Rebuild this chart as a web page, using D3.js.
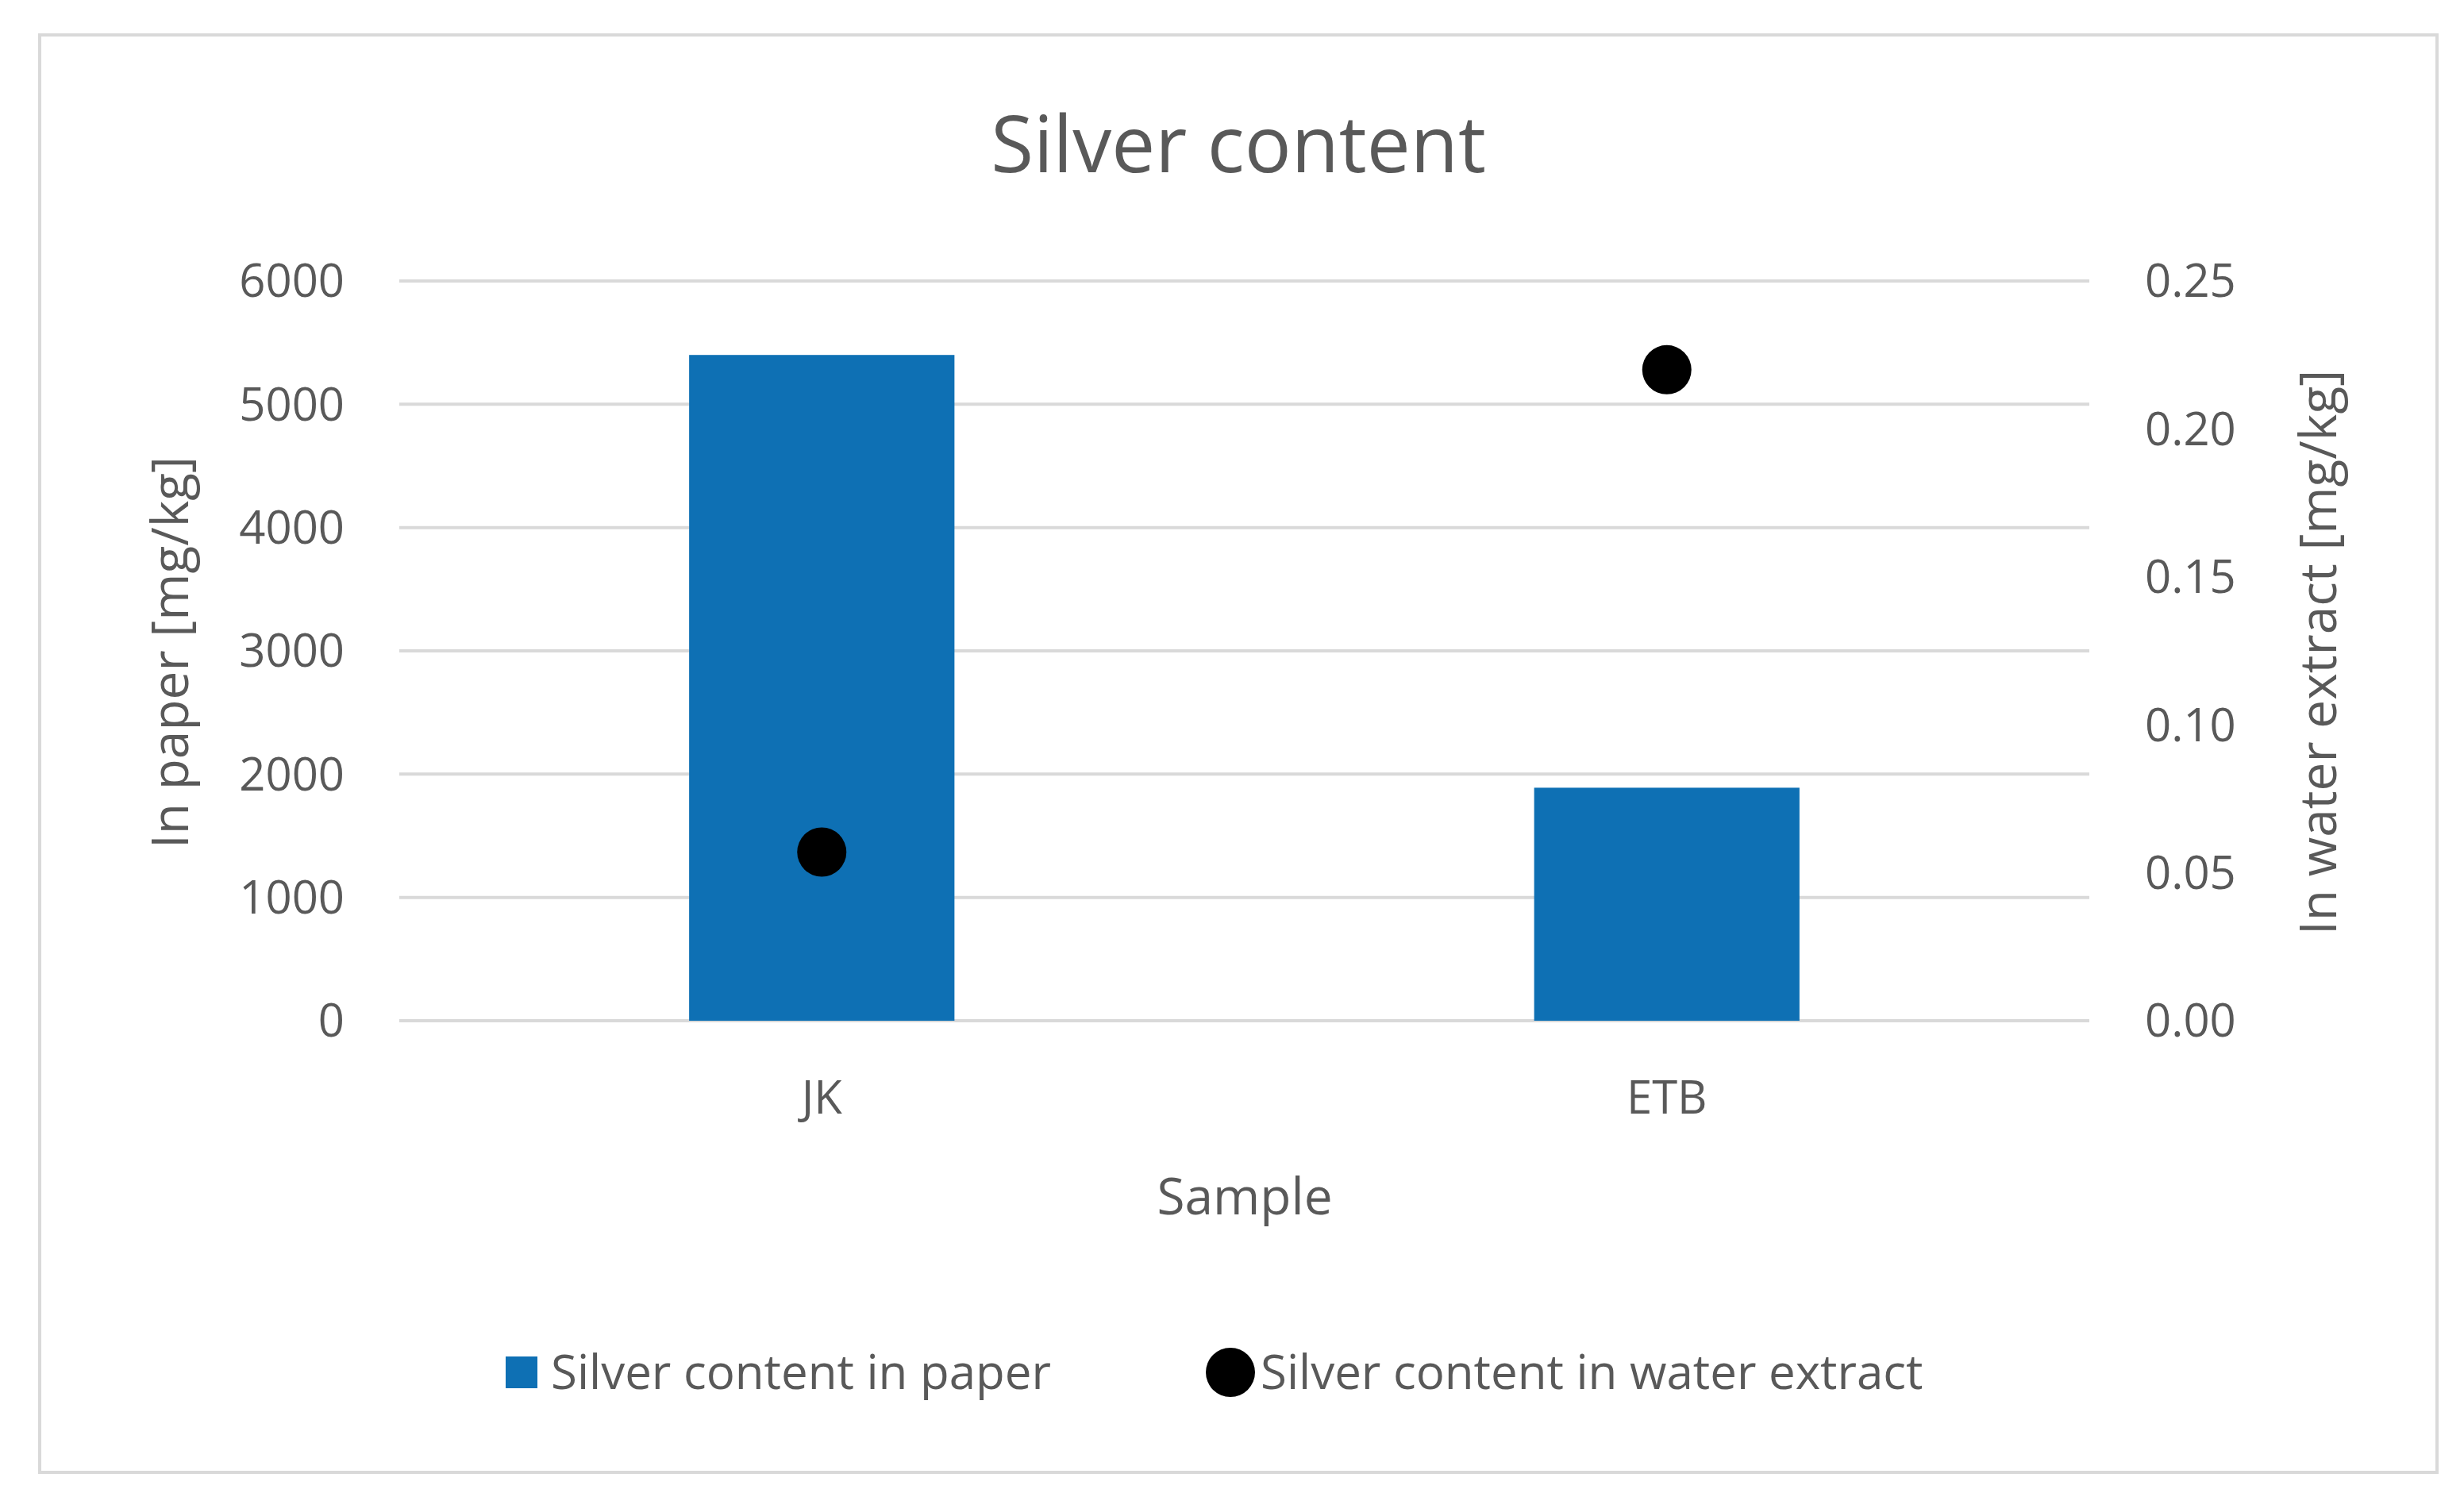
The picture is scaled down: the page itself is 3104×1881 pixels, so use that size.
<!DOCTYPE html>
<html><head><meta charset="UTF-8">
<style>body{margin:0;background:#fff}svg{display:block}text{font-family:'Open Sans',sans-serif;fill:#595959}</style>
<script src="https://cdn.jsdelivr.net/npm/d3@7/dist/d3.min.js"></script>
</head><body><svg id="c" width="3104" height="1881"></svg>
<script>
const categories = ['JK', 'ETB'];
const paperValues = [5400, 1890];
const waterValues = [0.057, 0.220];
const leftTicks = [0, 1000, 2000, 3000, 4000, 5000, 6000];
const rightTicks = [0, 0.05, 0.10, 0.15, 0.20, 0.25];

const svg = d3.select('#c');
svg.append('rect').attr('x', 50).attr('y', 44).attr('width', 3020).attr('height', 1811)
  .attr('fill', '#fff').attr('stroke', '#d9d9d9').attr('stroke-width', 4);

const L = 503, R = 2632, T = 354, B = 1286;
const x = d3.scaleBand().domain(categories).range([L, R]).paddingInner(0.686).paddingOuter(0.343);
const yL = d3.scaleLinear().domain([0, 6000]).range([B, T]);
const yR = d3.scaleLinear().domain([0, 0.25]).range([B, T]);

svg.append('g').selectAll('line').data(leftTicks).join('line')
  .attr('x1', L).attr('x2', R).attr('y1', d => yL(d)).attr('y2', d => yL(d))
  .attr('stroke', '#d9d9d9').attr('stroke-width', 4);

svg.append('g').selectAll('text').data(leftTicks).join('text')
  .attr('x', 434).attr('y', d => yL(d)).attr('dy', '0.35em').attr('text-anchor', 'end')
  .attr('font-size', 58).text(d => d);
svg.append('g').selectAll('text').data(rightTicks).join('text')
  .attr('x', 2702).attr('y', d => yR(d)).attr('dy', '0.35em')
  .attr('font-size', 58).text(d => d.toFixed(2));

svg.append('g').selectAll('rect').data(categories).join('rect')
  .attr('x', d => x(d)).attr('width', x.bandwidth())
  .attr('y', (d, i) => yL(paperValues[i])).attr('height', (d, i) => B - yL(paperValues[i]))
  .attr('fill', '#0e70b4');

svg.append('g').selectAll('circle').data(categories).join('circle')
  .attr('cx', d => x(d) + x.bandwidth() / 2).attr('cy', (d, i) => yR(waterValues[i]))
  .attr('r', 31).attr('fill', '#000');

svg.append('g').selectAll('text').data(categories).join('text')
  .attr('x', d => x(d) + x.bandwidth() / 2).attr('y', 1383).attr('dy', '0.35em')
  .attr('text-anchor', 'middle').attr('font-size', 58).text(d => d);

svg.append('text').attr('x', 1560).attr('y', 183).attr('dy', '0.35em').attr('text-anchor', 'middle')
  .attr('font-size', 98).text('Silver content');
svg.append('text').attr('x', 1568).attr('y', 1508).attr('dy', '0.35em').attr('text-anchor', 'middle')
  .attr('font-size', 64).text('Sample');
svg.append('text').attr('transform', 'translate(215,822) rotate(-90)').attr('dy', '0.35em')
  .attr('text-anchor', 'middle').attr('font-size', 64).text('In paper [mg/kg]');
svg.append('text').attr('transform', 'translate(2921,822) rotate(-90)').attr('dy', '0.35em')
  .attr('text-anchor', 'middle').attr('font-size', 64).text('In water extract [mg/kg]');

// legend
svg.append('rect').attr('x', 637).attr('y', 1709).attr('width', 40).attr('height', 40).attr('fill', '#0e70b4');
svg.append('text').attr('x', 694).attr('y', 1729).attr('dy', '0.35em').attr('font-size', 60).text('Silver content in paper');
svg.append('circle').attr('cx', 1550).attr('cy', 1729).attr('r', 31).attr('fill', '#000');
svg.append('text').attr('x', 1588).attr('y', 1729).attr('dy', '0.35em').attr('font-size', 60).text('Silver content in water extract');
</script></body></html>
